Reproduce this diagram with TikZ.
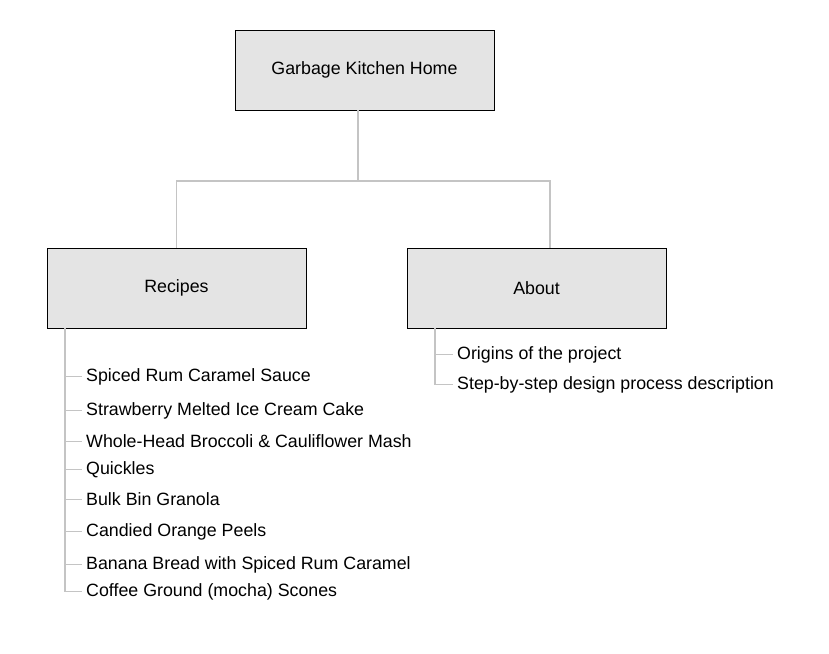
\documentclass[tikz,border=0pt]{standalone}
\usepackage{fontspec}
\setmainfont{Liberation Sans}
\usetikzlibrary{positioning}
\definecolor{boxgray}{RGB}{228,228,228}
\definecolor{linkgray}{RGB}{196,196,196}

\begin{document}
\begin{tikzpicture}[x=1pt,y=-1pt,font=\fontsize{17.8}{20}\selectfont,
  pagebox/.style={draw,thick,fill=boxgray,minimum width=259pt,minimum height=80pt},
  link/.style={draw=linkgray,line width=1.2pt},
  item/.style={anchor=west,inner sep=4pt,yshift=-1.5pt}]
\useasboundingbox (0,0) rectangle (829,653);
% boxes
\node[pagebox] (home) at (364.5,70) {Garbage Kitchen Home};
\node[pagebox] (recipes) at (176.5,288) {Recipes};
\node[pagebox] (about) at (536.5,288) {About};
% tree
\coordinate (split) at (358,181);
\coordinate (aboutin) at ([xshift=13.5pt]about.north);
\draw[link,line width=1.8pt] (home.south -| split) -- (split);
\draw[link] (recipes.north) |- (split) -| (aboutin);
% recipe list
\coordinate (rtop) at (65,328);
\foreach \name/\txt/\y in {r1/Spiced Rum Caramel Sauce/375,r2/Strawberry Melted Ice Cream Cake/409,
  r3/Whole-Head Broccoli \& Cauliflower Mash/440,r4/Quickles/468,r5/Bulk Bin Granola/498,
  r6/Candied Orange Peels/530,r7/Banana Bread with Spiced Rum Caramel/563,r8/Coffee Ground (mocha) Scones/590}{
  \node[item] (\name) at (82,\y) {\txt};
  \draw[link] (rtop |- \name.west) -- (\name.west);
}
\draw[link] (rtop) -- (rtop |- r8.west);
% about list
\coordinate (atop) at (435,328);
\node[item] (a1) at (453,353) {Origins of the project};
\node[item] (a2) at (453,383) {Step-by-step design process description};
\draw[link] (atop) |- (a2.west);
\draw[link] (atop |- a1.west) -- (a1.west);
\end{tikzpicture}
\end{document}
